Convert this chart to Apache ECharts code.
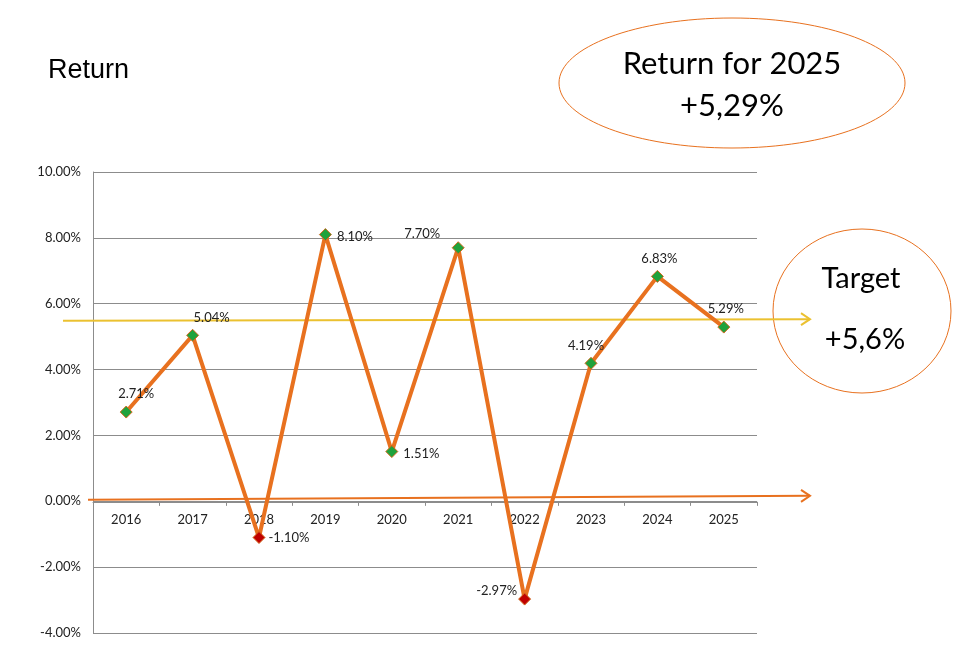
<!DOCTYPE html>
<html>
<head>
<meta charset="utf-8">
<title>Return</title>
<script src="https://cdn.jsdelivr.net/npm/echarts@6/dist/echarts.min.js"></script>
<style>
  html, body { margin: 0; padding: 0; background: #fff; }
  #chart { width: 965px; height: 655px; }
</style>
</head>
<body>
<div id="chart"></div>
<script>
// data
var years = ['2016', '2017', '2018', '2019', '2020', '2021', '2022', '2023', '2024', '2025'];
var returns = [2.71, 5.04, -1.10, 8.10, 1.51, 7.70, -2.97, 4.19, 6.83, 5.29];
var targetLine = 5.5;   // where the yellow arrow sits
var yTicks = { min: -4, max: 10, step: 2 };

var ORANGE = '#E8711F';
var GREEN = '#1FA23C';
var RED = '#C00000';
var FONT = 'Lato, "Open Sans", sans-serif';

// label placement per point (offsets in px)
var labelSpots = [
  { position: 'top', offset: [10, 0] },
  { position: 'top', offset: [19, 0] },
  { position: 'right', offset: [-2, 0] },
  { position: 'right', offset: [0, 2] },
  { position: 'right', offset: [0, 2] },
  { position: 'top', offset: [-36, 4] },
  { position: 'left', offset: [4, -8] },
  { position: 'top', offset: [-5, 0] },
  { position: 'top', offset: [2, 0] },
  { position: 'top', offset: [2, 0] }
];

var points = returns.map(function (v, i) {
  return {
    value: v,
    itemStyle: { color: v < 0 ? RED : GREEN },
    label: labelSpots[i]
  };
});

var chart = echarts.init(document.getElementById('chart'));

var option = {
  animation: false,
  backgroundColor: '#fff',
  grid: { left: 93, right: 208, top: 172, bottom: 22 },
  xAxis: {
    type: 'category',
    data: years,
    boundaryGap: true,
    axisLine: { onZero: false, lineStyle: { color: '#8c8c8c', width: 1 } },
    axisTick: { show: true, interval: 0, length: 4, lineStyle: { color: '#8c8c8c' } },
    axisLabel: { color: '#222', fontSize: 13, fontFamily: FONT, margin: 11 },
    splitLine: { show: false }
  },
  yAxis: {
    type: 'value',
    min: yTicks.min,
    max: yTicks.max,
    interval: yTicks.step,
    axisLine: { show: true, lineStyle: { color: '#8c8c8c', width: 1 } },
    axisTick: { show: false },
    axisLabel: {
      color: '#222', fontSize: 13, fontFamily: FONT, margin: 12,
      formatter: function (v) { return v.toFixed(2) + '%'; }
    },
    splitLine: { lineStyle: { color: '#8c8c8c', width: 1 } }
  },
  series: [{
    type: 'line',
    data: points,
    symbol: 'diamond',
    symbolSize: 12,
    z: 5,
    lineStyle: { color: ORANGE, width: 4 },
    itemStyle: { borderColor: '#D2691E', borderWidth: 1 },
    label: {
      show: true,
      color: '#222',
      fontSize: 13,
      fontFamily: FONT,
      formatter: function (p) { return p.value.toFixed(2) + '%'; }
    }
  }]
};
chart.setOption(option);

// move the category axis up to the zero line
var yZero = chart.convertToPixel({ yAxisIndex: 0 }, 0);
var yBottom = chart.convertToPixel({ yAxisIndex: 0 }, yTicks.min);
chart.setOption({ xAxis: { offset: yZero - yBottom } });

// annotation arrows and bubbles, placed from axis values
var yTarget = chart.convertToPixel({ yAxisIndex: 0 }, targetLine);
var arrowEnd = 810;

function arrow(x1, y1, x2, y2, color, width) {
  return [
    { type: 'line', z: 3, shape: { x1: x1, y1: y1, x2: x2, y2: y2 },
      style: { stroke: color, lineWidth: width } },
    { type: 'polyline', z: 3, shape: { points: [[x2 - 9, y2 - 6], [x2, y2], [x2 - 9, y2 + 6]] },
      style: { stroke: color, lineWidth: width, fill: null } }
  ];
}

var elements = []
  .concat(arrow(88, yZero, arrowEnd, yZero - 4, ORANGE, 2))
  .concat(arrow(63, yTarget + 0.5, arrowEnd, yTarget - 1, '#EBC130', 2));

elements.push(
  { type: 'text', left: 48, top: 57,
    style: { text: 'Return', fill: '#000', font: '27px "Liberation Sans", Arial, sans-serif' } },
  { type: 'ellipse', shape: { cx: 732, cy: 83, rx: 173, ry: 65 },
    style: { fill: '#fff', stroke: ORANGE, lineWidth: 1 } },
  { type: 'text', x: 732, y: 64,
    style: { text: 'Return for 2025', fill: '#000', font: '31px ' + FONT, align: 'center', verticalAlign: 'middle' } },
  { type: 'text', x: 732, y: 106,
    style: { text: '+5,29%', fill: '#000', font: '31px ' + FONT, align: 'center', verticalAlign: 'middle' } },
  { type: 'ellipse', shape: { cx: 862, cy: 311, rx: 89, ry: 82 },
    style: { fill: 'rgba(255,255,255,0)', stroke: ORANGE, lineWidth: 1 } },
  { type: 'text', x: 861, y: 279,
    style: { text: 'Target', fill: '#000', font: '29px ' + FONT, align: 'center', verticalAlign: 'middle' } },
  { type: 'text', x: 865, y: 340,
    style: { text: '+5,6%', fill: '#000', font: '29px ' + FONT, align: 'center', verticalAlign: 'middle' } }
);

chart.setOption({ graphic: { elements: elements } });
</script>
</body>
</html>
